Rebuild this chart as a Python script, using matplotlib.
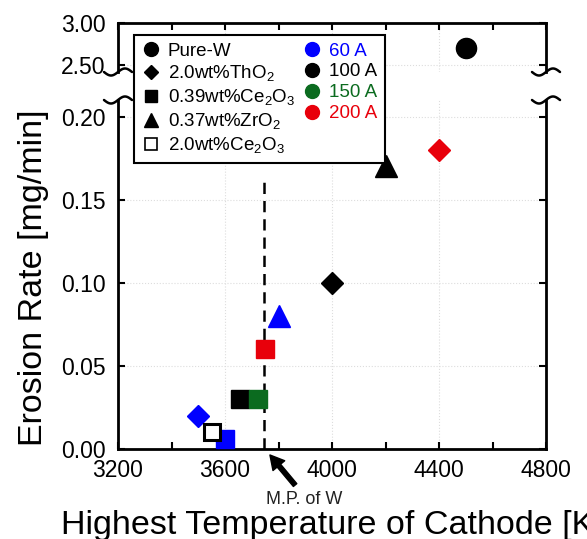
import matplotlib.pyplot as plt
from matplotlib.lines import Line2D
from matplotlib.ticker import MultipleLocator, FormatStrFormatter
import numpy as np

plt.rcParams['font.family'] = ['Liberation Sans', 'DejaVu Sans']
plt.rcParams['mathtext.fontset'] = 'custom'
plt.rcParams['mathtext.rm'] = 'Liberation Sans'

# arc current -> colour
colors = {60: '#0000ff', 100: '#000000', 150: '#0b6b1f', 200: '#e8000b'}
current_labels = ['60 A', '100 A', '150 A', '200 A']
currents = [60, 100, 150, 200]

# data: highest cathode temperature [K], erosion rate [mg/min], current [A]
purew_T = [4500]
purew_rate = [2.70]
purew_I = [100]

tho2_T = [3500, 4000, 4400]
tho2_rate = [0.02, 0.10, 0.18]
tho2_I = [60, 100, 200]

ce039_T = [3600, 3655, 3725, 3750]
ce039_rate = [0.006, 0.03, 0.03, 0.06]
ce039_I = [60, 100, 150, 200]

zro2_T = [3800, 4200]
zro2_rate = [0.08, 0.17]
zro2_I = [60, 100]

ce20_T = [3550]
ce20_rate = [0.01]

mp_w = 3745  # melting point of W (dashed line)

W, H = 587, 539
fig = plt.figure(figsize=(W / 100, H / 100), dpi=100)

def fig_box(x0, y0, x1, y1):
    return [x0 / W, 1 - y1 / H, (x1 - x0) / W, (y1 - y0) / H]

ax_top = fig.add_axes(fig_box(118, 23, 546, 72))
ax = fig.add_axes(fig_box(118, 100, 546, 449))

# points
for T, r, I in zip(purew_T, purew_rate, purew_I):
    ax_top.plot(T, r, 'o', ms=14.5, color=colors[I], zorder=3)
for T, r, I in zip(tho2_T, tho2_rate, tho2_I):
    ax.plot(T, r, 'D', ms=11.5, color=colors[I], zorder=3)
for T, r, I in zip(ce039_T, ce039_rate, ce039_I):
    ax.plot(T, r, 's', ms=13.5, color=colors[I], zorder=3)
for T, r, I in zip(zro2_T, zro2_rate, zro2_I):
    ax.plot(T, r, '^', ms=15.5, color=colors[I], zorder=3)
ax.plot(ce20_T, ce20_rate, 's', ms=12, mfc='white', mec='black', mew=2.2, zorder=4)

# melting point line + arrow
ax.plot([mp_w, mp_w], [0, 0.161], color='black', lw=1.8, dashes=(4.5, 2.8), zorder=2)
ax.annotate('', xy=(3768, -0.0036), xytext=(3862, -0.0217), xycoords='data',
            annotation_clip=False,
            arrowprops=dict(facecolor='black', edgecolor='black', width=3.2,
                            headwidth=11, headlength=10, shrink=0))
ax.text(3895, -0.0305, 'M.P. of W', fontsize=13, ha='center', va='center', color='#222222')

# axes styling
for a in (ax, ax_top):
    a.set_xlim(3200, 4800)
    a.xaxis.set_major_locator(MultipleLocator(400))
    a.xaxis.set_minor_locator(MultipleLocator(200))
    a.tick_params(which='both', direction='in', length=5, width=1.5, labelsize=16.5)
    a.grid(True, which='major', color='#dddddd', ls=':', lw=0.8)
    a.set_axisbelow(True)
    for s in a.spines.values():
        s.set_linewidth(2)

ax.set_ylim(0, 0.21)
ax.yaxis.set_major_locator(MultipleLocator(0.05))
ax.yaxis.set_major_formatter(FormatStrFormatter('%.2f'))
ax.spines['top'].set_visible(False)
ax.tick_params(axis='x', which='both', top=False, bottom=True, pad=7)
ax.tick_params(axis='y', left=True, right=True, pad=9)

ax_top.set_ylim(2.42, 3.0)
ax_top.set_yticks([2.5, 3.0])
ax_top.yaxis.set_major_formatter(FormatStrFormatter('%.2f'))
ax_top.spines['bottom'].set_visible(False)
ax_top.tick_params(axis='x', which='both', top=True, bottom=False, labelbottom=False)
ax_top.tick_params(axis='y', left=True, right=True, pad=9)

ax.set_xlabel('Highest Temperature of Cathode [K]', fontsize=24.5)
ax.xaxis.set_label_coords(0.5, -0.175)
ax.set_ylabel('Erosion Rate [mg/min]', fontsize=24.5)
ax.yaxis.set_label_coords(-0.161, 0.49)

# axis break squiggles
def squiggle(xc, yc):
    xs = np.linspace(-14, 14, 60)
    ys = yc + 3.5 * np.sin(np.pi * (xs + 14) / 14)
    fig.add_artist(Line2D((xc + xs) / W, 1 - ys / H, color='black', lw=1.8,
                          transform=fig.transFigure, solid_capstyle='round'))

for xc in (118, 546):
    squiggle(xc, 72)
    squiggle(xc, 100)

# legend
handles = [
    Line2D([], [], ls='none', marker='o', color='black', ms=10),
    Line2D([], [], ls='none', marker='D', color='black', ms=7.4),
    Line2D([], [], ls='none', marker='s', color='black', ms=8.8),
    Line2D([], [], ls='none', marker='^', color='black', ms=10.5),
    Line2D([], [], ls='none', marker='s', mfc='white', mec='black', mew=1.2, ms=8.8),
]
labels = ['Pure-W', r'2.0wt%ThO$_\mathregular{2}$',
          r'0.39wt%Ce$_\mathregular{2}$O$_\mathregular{3}$',
          r'0.37wt%ZrO$_\mathregular{2}$',
          r'2.0wt%Ce$_\mathregular{2}$O$_\mathregular{3}$']
label_colors = ['black'] * 5
for I, lab in zip(currents, current_labels):
    handles.append(Line2D([], [], ls='none', marker='o', color=colors[I], ms=10))
    labels.append(lab)
    label_colors.append(colors[I])
handles.append(Line2D([], [], ls='none'))
labels.append('')
label_colors.append('black')

leg = fig.legend(handles, labels, loc='upper left', bbox_to_anchor=(134 / W, 1 - 35 / H),
                 ncol=2, fontsize=13.5, handlelength=1.0, handletextpad=0.4,
                 labelspacing=0.2, columnspacing=0.4, borderpad=0.4, borderaxespad=0,
                 fancybox=False, framealpha=1, edgecolor='black', labelcolor=label_colors)
leg.get_frame().set_linewidth(1.5)

fig.savefig('out.png', dpi=100)
